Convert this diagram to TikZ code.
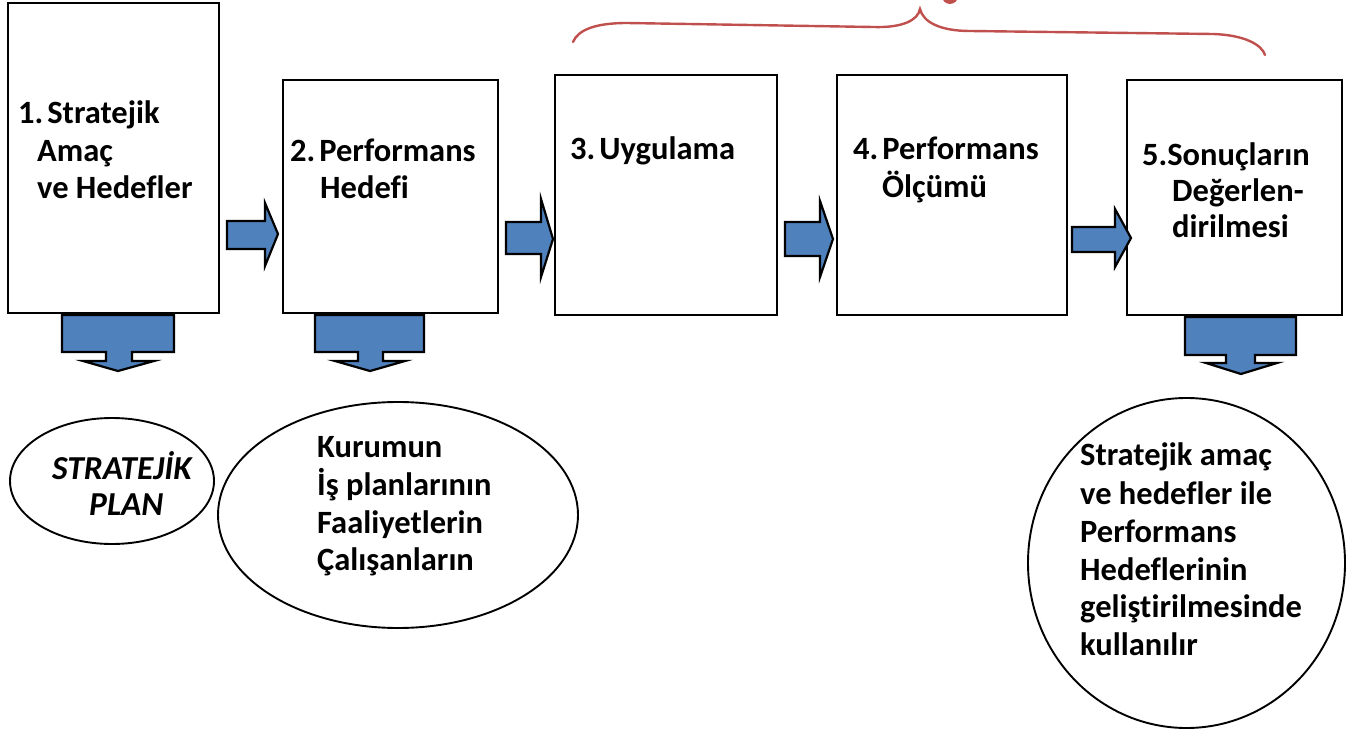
\documentclass[tikz,border=0pt]{standalone}
\usepackage{fontspec}
\setmainfont{Carlito}[Ligatures={NoCommon}]
\definecolor{arrowblue}{HTML}{4F81BD}
\definecolor{bracered}{HTML}{C0504D}
\begin{document}
\begin{tikzpicture}[x=1pt,y=-1pt,
  box/.style={draw=black,line width=2.6pt,fill=white},
  oval/.style={draw=black,line width=1.9pt},
  blockarrow/.style={draw=black,line width=2.2pt,fill=arrowblue,line join=miter},
  txt/.style={anchor=base west,inner sep=0pt,font=\bfseries\fontsize{32.5}{37}\selectfont},
  itxt/.style={anchor=base west,inner sep=0pt,font=\bfseries\itshape\fontsize{33.5}{37}\selectfont},
  brace/.style={draw=bracered,line width=2.4pt,line cap=round}]
\useasboundingbox (0,0) rectangle (1363,733);
\clip (0,0) rectangle (1363,733);

% boxes
\draw[box] (8,3) rectangle (219,313);
\draw[box] (283,80) rectangle (498,313);
\draw[box] (555,75) rectangle (777,315);
\draw[box] (837,75) rectangle (1067,315);
\draw[box] (1127,80) rectangle (1342,315);

% box texts
\node[txt] (t1a) at (18,124) {1.\hspace{4pt}Stratejik};
\node[txt] (t1b) at (37,161) {Amaç};
\node[txt] (t1c) at (37,198) {ve Hedefler};
\node[txt] (t2a) at (290,162) {2.\hspace{4pt}Performans};
\node[txt] (t2b) at (320,198) {Hedefi};
\node[txt] (t3a) at (570,160) {3.\hspace{4pt}Uygulama};
\node[txt] (t4a) at (853,160) {4.\hspace{4pt}Performans};
\node[txt] (t4b) at (882,197) {Ölçümü};
\node[txt] (t5a) at (1142,165) {5.Sonuçların};
\node[txt] (t5b) at (1172,201) {Değerlen-};
\node[txt] (t5c) at (1172,237) {dirilmesi};

% right block arrows
\draw[blockarrow] (227,221) -- (265,221) -- (265,203) -- (278,234) -- (265,266) -- (265,249) -- (227,249) -- cycle;
\draw[blockarrow] (506,222) -- (541,222) -- (541,199) -- (553,239) -- (541,277) -- (541,254) -- (506,254) -- cycle;
\draw[blockarrow] (785,222) -- (820,222) -- (820,201) -- (833,239) -- (820,277) -- (820,256) -- (785,256) -- cycle;
\draw[blockarrow] (1072,227) -- (1115,227) -- (1115,209) -- (1131,238) -- (1115,267) -- (1115,252) -- (1072,252) -- cycle;

% down block arrows
\draw[blockarrow] (62,315) -- (174,315) -- (174,352) -- (132,352) -- (132,361) -- (154,361) -- (118,371) -- (83,361) -- (106,361) -- (106,352) -- (62,352) -- cycle;
\draw[blockarrow] (315,315) -- (424,315) -- (424,352) -- (383,352) -- (383,361) -- (405,361) -- (370,371) -- (335,361) -- (358,361) -- (358,352) -- (315,352) -- cycle;
\draw[blockarrow] (1185,317) -- (1296,317) -- (1296,355) -- (1255,355) -- (1255,363) -- (1277,363) -- (1241,374) -- (1206,363) -- (1226,363) -- (1226,355) -- (1185,355) -- cycle;

% ellipses
\draw[oval] (112,481) ellipse [x radius=102, y radius=63];
\draw[oval] (398,515) ellipse [x radius=180, y radius=113];
\draw[oval] (1186.5,563) ellipse [x radius=158.5, y radius=165];

% ellipse texts
\node[itxt] (e1a) at (52,479) {STRATEJİK};
\node[itxt] (e1b) at (89,515) {PLAN};
\node[txt] (e2a) at (317,457) {Kurumun};
\node[txt] (e2b) at (317,495) {İş planlarının};
\node[txt] (e2c) at (317,533) {Faaliyetlerin};
\node[txt] (e2d) at (317,570) {Çalışanların};
\node[txt] (e3a) at (1080,465) {Stratejik amaç};
\node[txt] (e3b) at (1080,504) {ve hedefler ile};
\node[txt] (e3c) at (1080,542) {Performans};
\node[txt] (e3d) at (1080,580) {Hedeflerinin};
\node[txt] (e3e) at (1080,617) {geliştirilmesinde};
\node[txt] (e3f) at (1080,655) {kullanılır};

% brace
\draw[brace] (573,42) .. controls (578,30) and (595,23) .. (627,23)
  -- (873,27) .. controls (903,28) and (918,20) .. (920,9)
  .. controls (923,22) and (940,31) .. (970,31)
  -- (1213,34) .. controls (1245,35) and (1262,45) .. (1265,55);
\fill[bracered] (950,-4) circle [radius=8];
\end{tikzpicture}
\end{document}
